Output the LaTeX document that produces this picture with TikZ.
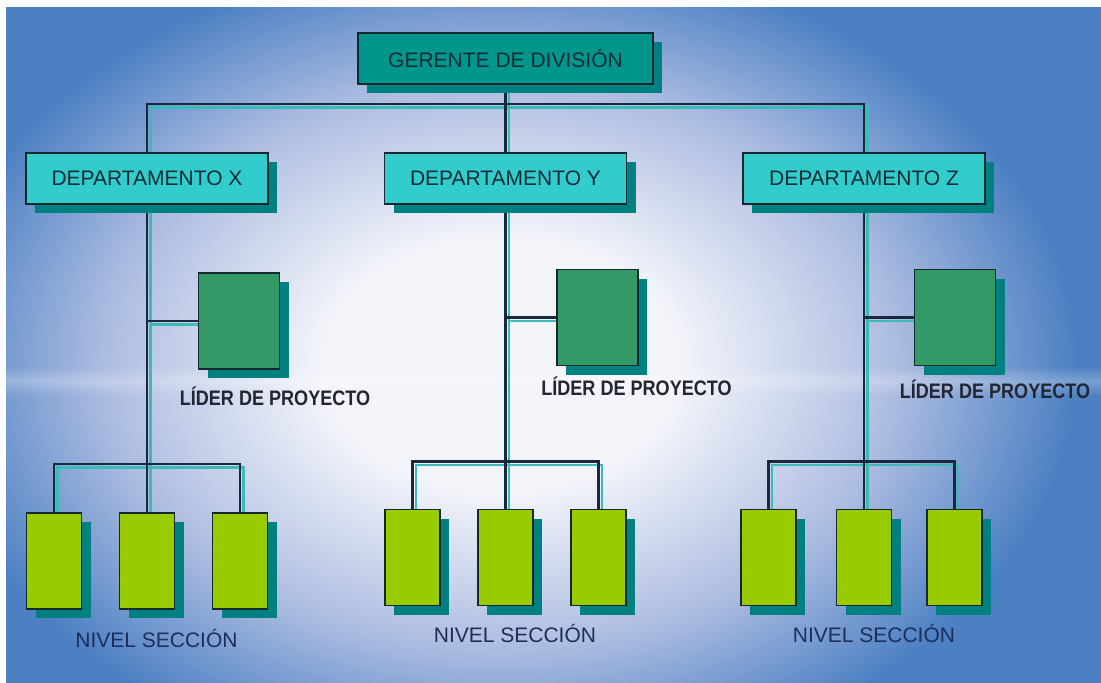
\documentclass[tikz,border=0pt]{standalone}
\usepackage{fontspec}
\setmainfont{Liberation Sans}
\usetikzlibrary{shadows,fadings}
\definecolor{bgedge}{RGB}{76,128,195}
\definecolor{bgmid}{RGB}{172,188,225}
\definecolor{bgcen}{RGB}{243,244,250}
\definecolor{gerfill}{RGB}{0,150,140}
\definecolor{depfill}{RGB}{51,204,204}
\definecolor{ldrfill}{RGB}{51,153,102}
\definecolor{secfill}{RGB}{153,204,0}
\definecolor{shadowc}{RGB}{0,128,128}
\definecolor{boxline}{RGB}{20,40,45}
\definecolor{linec}{RGB}{25,40,60}
\definecolor{lineshadow}{RGB}{60,185,185}
\definecolor{txtc}{RGB}{15,45,55}
\definecolor{ldrtxtc}{RGB}{35,38,50}
\definecolor{navytxt}{RGB}{30,45,90}
\pgfdeclareradialshading{bgshade}{\pgfpoint{0bp}{0bp}}{color(0bp)=(bgcen); color(7.5bp)=(bgcen); color(16.5bp)=(bgmid); color(24bp)=(bgedge); color(50bp)=(bgedge)}
\tikzfading[name=bandfade, top color=transparent!100, bottom color=transparent!100, middle color=transparent!75]
\pgfdeclarelayer{bg}
\pgfdeclarelayer{lines}
\pgfsetlayers{bg,lines,main}
\begin{document}
\begin{tikzpicture}[x=1pt,y=-1pt,
  box/.style={draw=boxline, line width=1.8pt, inner sep=0pt,
    general shadow={fill=shadowc, draw=none, shadow xshift=9pt, shadow yshift=-9pt}},
  gerbox/.style={box, fill=gerfill, minimum width=295pt, minimum height=51pt,
    font=\fontsize{21}{21}\selectfont, text=txtc},
  depbox/.style={box, fill=depfill, minimum width=242pt, minimum height=51pt,
    font=\fontsize{21}{21}\selectfont, text=txtc},
  ldrbox/.style={box, fill=ldrfill, minimum width=81pt, minimum height=96pt},
  secbox/.style={box, fill=secfill, minimum width=55pt, minimum height=96pt},
  ldrtxt/.style={font=\bfseries\fontsize{21}{21}\selectfont, text=ldrtxtc, inner sep=0pt},
  sectxt/.style={font=\fontsize{21}{21}\selectfont, text=navytxt, inner sep=0pt},
  conn/.style={draw=linec, line width=2.6pt},
  connsh/.style={draw=lineshadow, line width=2.6pt, transform canvas={shift={(3.5pt,-3.5pt)}}}
]
\useasboundingbox (0,0) rectangle (1101,683);

% background
\begin{pgfonlayer}{bg}
\fill[white] (0,0) rectangle (1101,683);
\begin{scope}
\clip (6,7) rectangle (1101,683);
\fill[bgedge] (6,7) rectangle (1101,683);
\shade[shading=bgshade] (-100,-65) rectangle (1100,795);
\fill[white, path fading=bandfade] (0,366) rectangle (1101,396);
\end{scope}
\end{pgfonlayer}

% nodes
\node[gerbox] (ger) at (505.5,58.5) {GERENTE DE DIVISIÓN};
\node[depbox] (dX) at (147,178.5) {DEPARTAMENTO X};
\node[depbox] (dY) at (505.5,178.5) {DEPARTAMENTO Y};
\node[depbox] (dZ) at (864,178.5) {DEPARTAMENTO Z};

\node[ldrbox] (lX) at (239,321) {};
\node[ldrbox] (lY) at (597.5,317.5) {};
\node[ldrbox] (lZ) at (955,317.5) {};

\node[ldrtxt] (ltX) at (275,396) {\scalebox{0.86}[1]{LÍDER DE PROYECTO}};
\node[ldrtxt] (ltY) at (636.5,386) {\scalebox{0.86}[1]{LÍDER DE PROYECTO}};
\node[ldrtxt] (ltZ) at (995,389) {\scalebox{0.86}[1]{LÍDER DE PROYECTO}};

\node[secbox] (sX1) at (54,561) {};
\node[secbox] (sX2) at (147,561) {};
\node[secbox] (sX3) at (240,561) {};
\node[secbox] (sY1) at (412.5,557.5) {};
\node[secbox] (sY2) at (505.5,557.5) {};
\node[secbox] (sY3) at (598.5,557.5) {};
\node[secbox] (sZ1) at (768.5,557.5) {};
\node[secbox] (sZ2) at (864,557.5) {};
\node[secbox] (sZ3) at (954.5,557.5) {};

\node[sectxt] (stX) at (156.5,638) {NIVEL SECCIÓN};
\node[sectxt] (stY) at (515,633) {NIVEL SECCIÓN};
\node[sectxt] (stZ) at (874,633) {NIVEL SECCIÓN};

% connectors
\begin{pgfonlayer}{lines}
\foreach \s in {connsh,conn}{
  \draw[\s] (ger.south) -- (dY.north);
  \draw[\s] (dX.north) -- ++(0,-48) -| (dZ.north);
  \draw[\s] (dX.south) -- (sX2.north);
  \draw[\s] (dY.south) -- (sY2.north);
  \draw[\s] (dZ.south) -- (sZ2.north);
  \draw[\s] (lX.west) -- (lX.west -| dX.south);
  \draw[\s] (lY.west) -- (lY.west -| dY.south);
  \draw[\s] (lZ.west) -- (lZ.west -| dZ.south);
  \draw[\s] (sX1.north) -- ++(0,-48) -| (sX3.north);
  \draw[\s] (sY1.north) -- ++(0,-47) -| (sY3.north);
  \draw[\s] (sZ1.north) -- ++(0,-47) -| (sZ3.north);
}
\end{pgfonlayer}
\end{tikzpicture}
\end{document}
